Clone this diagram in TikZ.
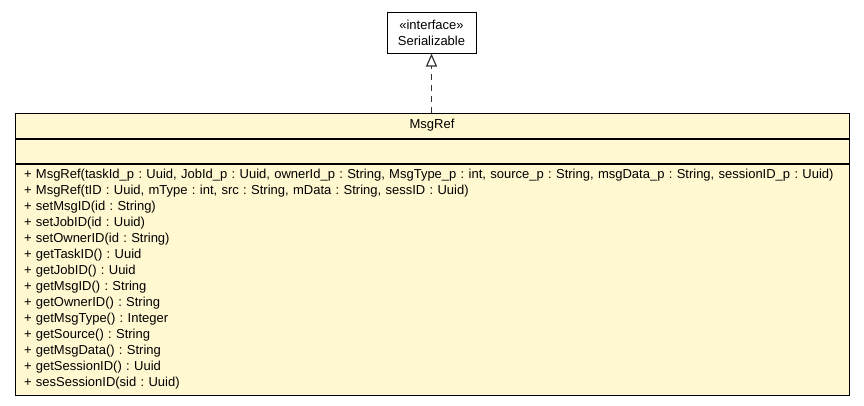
\documentclass[tikz,border=0pt]{standalone}
\usepackage{fontspec}
\setmainfont{Liberation Sans}
\usetikzlibrary{calc,arrows.meta}
\definecolor{classfill}{RGB}{255,248,208}
\frenchspacing

\begin{document}
\begin{tikzpicture}[x=1pt,y=1pt,
	umltext/.style={font=\fontsize{13}{16}\selectfont},
	classbox/.style={draw,line width=1pt,fill=classfill,inner sep=0pt,minimum width=834pt,umltext},
	realize/.style={dashed,dash pattern=on 6pt off 5pt,line width=1.2pt,color=black!80,-{Triangle[open,length=13pt,width=11pt,fill=white]}}]
			\useasboundingbox (0,0) rectangle (864,-405);
			
			\node[draw,line width=1pt,fill=white,minimum width=89pt,minimum height=41pt,inner sep=0pt,align=center,umltext] (ser) at (431.5,-32.5) {«interface»\\Serializable};
			
			%class
			\node[classbox,minimum height=25pt] (msg) at (432,-125.5) {MsgRef};
			\node[classbox,minimum height=24pt,anchor=north] (attr) at (msg.south) {};
			\node[classbox,minimum height=231pt,anchor=north,align=left,text width=816pt,inner xsep=9pt] (ops) at (attr.south) {%
				+ MsgRef(taskId\_p : Uuid, JobId\_p : Uuid, ownerId\_p : String, MsgType\_p : int, source\_p : String, msgData\_p : String, sessionID\_p : Uuid)\\
				+ MsgRef(tID : Uuid, mType : int, src : String, mData : String, sessID : Uuid)\\
				+ setMsgID(id : String)\\
				+ setJobID(id : Uuid)\\
				+ setOwnerID(id : String)\\
				+ getTaskID() : Uuid\\
				+ getJobID() : Uuid\\
				+ getMsgID() : String\\
				+ getOwnerID() : String\\
				+ getMsgType() : Integer\\
				+ getSource() : String\\
				+ getMsgData() : String\\
				+ getSessionID() : Uuid\\
				+ sesSessionID(sid : Uuid)};
			
			\draw[realize] (msg.north -| ser.south) -- (ser.south);
		\end{tikzpicture}
\end{document}
